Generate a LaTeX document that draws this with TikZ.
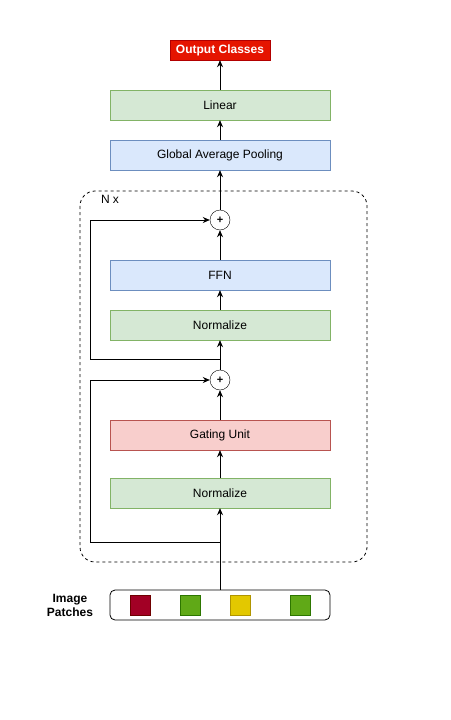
\documentclass[tikz,border=0pt]{standalone}
\usepackage{fontspec}
\setmainfont{Liberation Sans}
\usetikzlibrary{arrows.meta,positioning,calc}
\definecolor{greenfill}{HTML}{D5E8D4}
\definecolor{greenline}{HTML}{82B366}
\definecolor{bluefill}{HTML}{DAE8FC}
\definecolor{blueline}{HTML}{6C8EBF}
\definecolor{redfill}{HTML}{F8CECC}
\definecolor{redline}{HTML}{B85450}
\definecolor{outfill}{HTML}{E51400}
\definecolor{outline}{HTML}{B20000}
\definecolor{patchred}{HTML}{A20025}
\definecolor{patchredl}{HTML}{6F0000}
\definecolor{patchgreen}{HTML}{60A917}
\definecolor{patchgreenl}{HTML}{2D7600}
\definecolor{patchyellow}{HTML}{E3C800}
\definecolor{patchyellowl}{HTML}{B09500}
\tikzset{>={Stealth[length=7pt,width=6pt]}}
\tikzset{
  layer/.style={draw, minimum width=220pt, minimum height=30pt, inner sep=0pt,
    font=\fontsize{12}{14}\selectfont},
  greenbox/.style={layer, fill=greenfill, draw=greenline},
  bluebox/.style={layer, fill=bluefill, draw=blueline},
  redbox/.style={layer, fill=redfill, draw=redline},
  addnode/.style={draw, circle, minimum size=20pt, inner sep=0pt, fill=white,
    font=\bfseries\fontsize{11}{12}\selectfont},
  patch/.style={draw, minimum size=20pt, inner sep=0pt},
  conn/.style={->, line width=0.8pt}
}
\begin{document}
\begin{tikzpicture}[x=1pt, y=-1pt]
\useasboundingbox (0,0) rectangle (450,720);
% repeated block
\draw[dash pattern=on 3pt off 3pt, line width=0.8pt, rounded corners=15pt] (80,191) rectangle (367,562);
\node[font=\fontsize{12}{14}\selectfont] (nx) at (110,199) {N x};

\node[draw=outline, fill=outfill, text=white, minimum width=100pt, minimum height=20pt, inner sep=0pt,
  font=\bfseries\fontsize{12}{14}\selectfont] (out) at (220,50) {Output Classes};
\node[greenbox] (lin) at (220,105) {Linear};
\node[bluebox] (gap) at (220,155) {Global Average Pooling};
\node[addnode] (adda) at (220,220) {+};
\node[bluebox] (ffn) at (220,275) {FFN};
\node[greenbox] (norma) at (220,325) {Normalize};
\node[addnode] (addb) at (220,380) {+};
\node[redbox] (gate) at (220,435) {Gating Unit};
\node[greenbox] (normb) at (220,493) {Normalize};

% input patches
\node[draw, rounded corners=5pt, minimum width=220pt, minimum height=30pt, inner sep=0pt, line width=0.8pt] (inp) at (220,605) {};
\node[patch, fill=patchred, draw=patchredl] (pa) at (140,605) {};
\node[patch, fill=patchgreen, draw=patchgreenl] (pb) at (190,605) {};
\node[patch, fill=patchyellow, draw=patchyellowl] (pc) at (240,605) {};
\node[patch, fill=patchgreen, draw=patchgreenl] (pd) at (300,605) {};
\node[align=center, font=\bfseries\fontsize{12}{14}\selectfont] (lbl) at (70,605) {Image\\Patches};

\coordinate (ja) at (220,542);
\coordinate (jb) at (220,359);

\draw[conn] (inp.north) -- (normb.south);
\draw[conn] (ja) -- (90,542) |- (addb.west);
\draw[conn] (normb.north) -- (gate.south);
\draw[conn] (gate.north) -- (addb.south);
\draw[conn] (addb.north) -- (norma.south);
\draw[conn] (jb) -- (90,359) |- (adda.west);
\draw[conn] (norma.north) -- (ffn.south);
\draw[conn] (ffn.north) -- (adda.south);
\draw[conn] (adda.north) -- (gap.south);
\draw[conn] (gap.north) -- (lin.south);
\draw[conn] (lin.north) -- (out.south);
\end{tikzpicture}
\end{document}
